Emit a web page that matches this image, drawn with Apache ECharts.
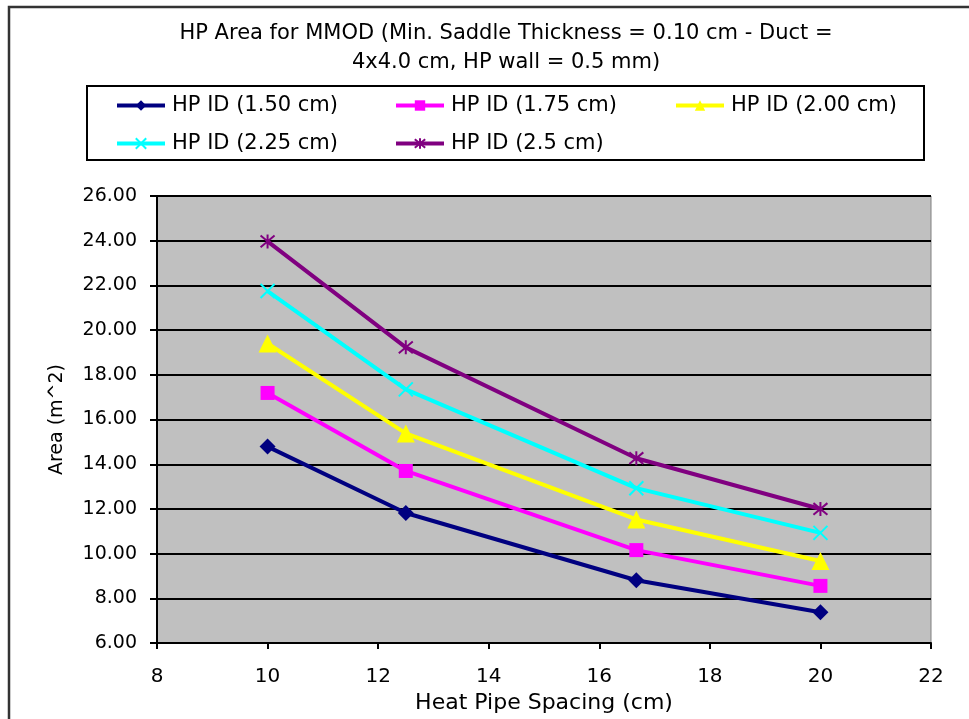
<!DOCTYPE html>
<html>
<head>
<meta charset="utf-8">
<script src="https://cdn.jsdelivr.net/npm/echarts@6/dist/echarts.min.js"></script>
<style>
  html, body { margin: 0; padding: 0; background: #fff; }
  #chart { width: 969px; height: 719px; }
</style>
</head>
<body>
<div id="chart"></div>
<script>
// heat pipe spacing (cm)
const spacing = [10, 12.5, 16.67, 20]
// area (m^2) for each HP inner diameter
const id150 = [14.79, 11.82, 8.81, 7.38]
const id175 = [17.19, 13.70, 10.16, 8.56]
const id200 = [19.40, 15.38, 11.53, 9.67]
const id225 = [21.75, 17.35, 12.93, 10.93]
const id250 = [23.97, 19.23, 14.27, 12.00]
const seriesNames = ['HP ID (1.50 cm)', 'HP ID (1.75 cm)', 'HP ID (2.00 cm)', 'HP ID (2.25 cm)', 'HP ID (2.5 cm)']

const FONT = 'DejaVu Sans'
const xMark = 'path://M0,0L10,10M10,0L0,10'
const starMark = 'path://M0,0L10,10M10,0L0,10M5,-1L5,11'

// 样式：颜色/标记
const styles = [
  { color: '#000080', symbol: 'diamond', size: 16, border: 0 },
  { color: '#FF00FF', symbol: 'rect', size: 14, border: 0 },
  { color: '#FFFF00', symbol: 'triangle', size: 18, border: 0 },
  { color: '#00FFFF', symbol: xMark, size: 14, border: 2 },
  { color: '#800080', symbol: starMark, size: 14, border: 2 }
]
// 图例位置（三列两行）
const legendPos = [[115, 95], [394, 95], [674, 95], [115, 133], [394, 133]]

const values = [id150, id175, id200, id225, id250]

const series = values.map((arr, i) => ({
  name: seriesNames[i],
  type: 'line',
  data: spacing.map((x, j) => [x, arr[j]]),
  symbol: styles[i].symbol,
  symbolSize: styles[i].size,
  lineStyle: { color: styles[i].color, width: 4 },
  itemStyle: { color: styles[i].color, borderColor: styles[i].color, borderWidth: styles[i].border },
  emphasis: { disabled: true },
  z: 3
}))

const legends = seriesNames.map((name, i) => ({
  left: legendPos[i][0],
  top: legendPos[i][1],
  itemWidth: 48,
  itemHeight: 13,
  itemGap: 0,
  padding: 0,
  data: [name],
  lineStyle: { width: 4 },
  textStyle: { fontFamily: FONT, fontSize: 21, color: '#000', padding: [0, 0, 0, 2] }
}))

const chart = echarts.init(document.getElementById('chart'))
chart.setOption({
  animation: false,
  backgroundColor: '#fff',
  title: {
    text: 'HP Area for MMOD (Min. Saddle Thickness = 0.10 cm - Duct =\n4x4.0 cm, HP wall = 0.5 mm)',
    left: 501,
    textAlign: 'center',
    top: 14,
    textStyle: { fontFamily: FONT, fontSize: 21, fontWeight: 'normal', color: '#000', lineHeight: 29 }
  },
  legend: legends,
  grid: {
    left: 157, right: 38, top: 196, bottom: 73,
    show: true,
    backgroundColor: '#C0C0C0',
    borderColor: '#808080',
    borderWidth: 1
  },
  xAxis: {
    type: 'value',
    min: 8, max: 22, interval: 2,
    name: 'Heat Pipe Spacing (cm)',
    nameLocation: 'middle',
    nameGap: 45,
    nameTextStyle: { fontFamily: FONT, fontSize: 22, color: '#000' },
    axisLine: { show: true, lineStyle: { color: '#000', width: 2 } },
    axisTick: { show: true, length: 6, lineStyle: { color: '#000', width: 2 } },
    axisLabel: { fontFamily: FONT, fontSize: 20, color: '#000', margin: 24 },
    splitLine: { show: false }
  },
  yAxis: {
    type: 'value',
    min: 6, max: 26, interval: 2,
    name: 'Area (m^2)',
    nameLocation: 'middle',
    nameRotate: 90,
    nameGap: 90,
    nameTextStyle: { fontFamily: FONT, fontSize: 19, color: '#000' },
    axisLine: { show: true, lineStyle: { color: '#000', width: 2 } },
    axisTick: { show: true, length: 7, lineStyle: { color: '#000', width: 2 } },
    axisLabel: { fontFamily: FONT, fontSize: 19, color: '#000', margin: 20, formatter: v => v.toFixed(2) },
    splitLine: { show: true, lineStyle: { color: '#000', width: 2 } }
  },
  graphic: [
    // 外框
    { type: 'rect', shape: { x: 9, y: 7, width: 990, height: 760 }, style: { fill: 'none', stroke: '#333', lineWidth: 2.5 }, silent: true },
    // 图例框
    { type: 'rect', shape: { x: 87, y: 86, width: 837, height: 74 }, style: { fill: 'none', stroke: '#000', lineWidth: 2 }, silent: true }
  ],
  series: series
})
</script>
</body>
</html>
